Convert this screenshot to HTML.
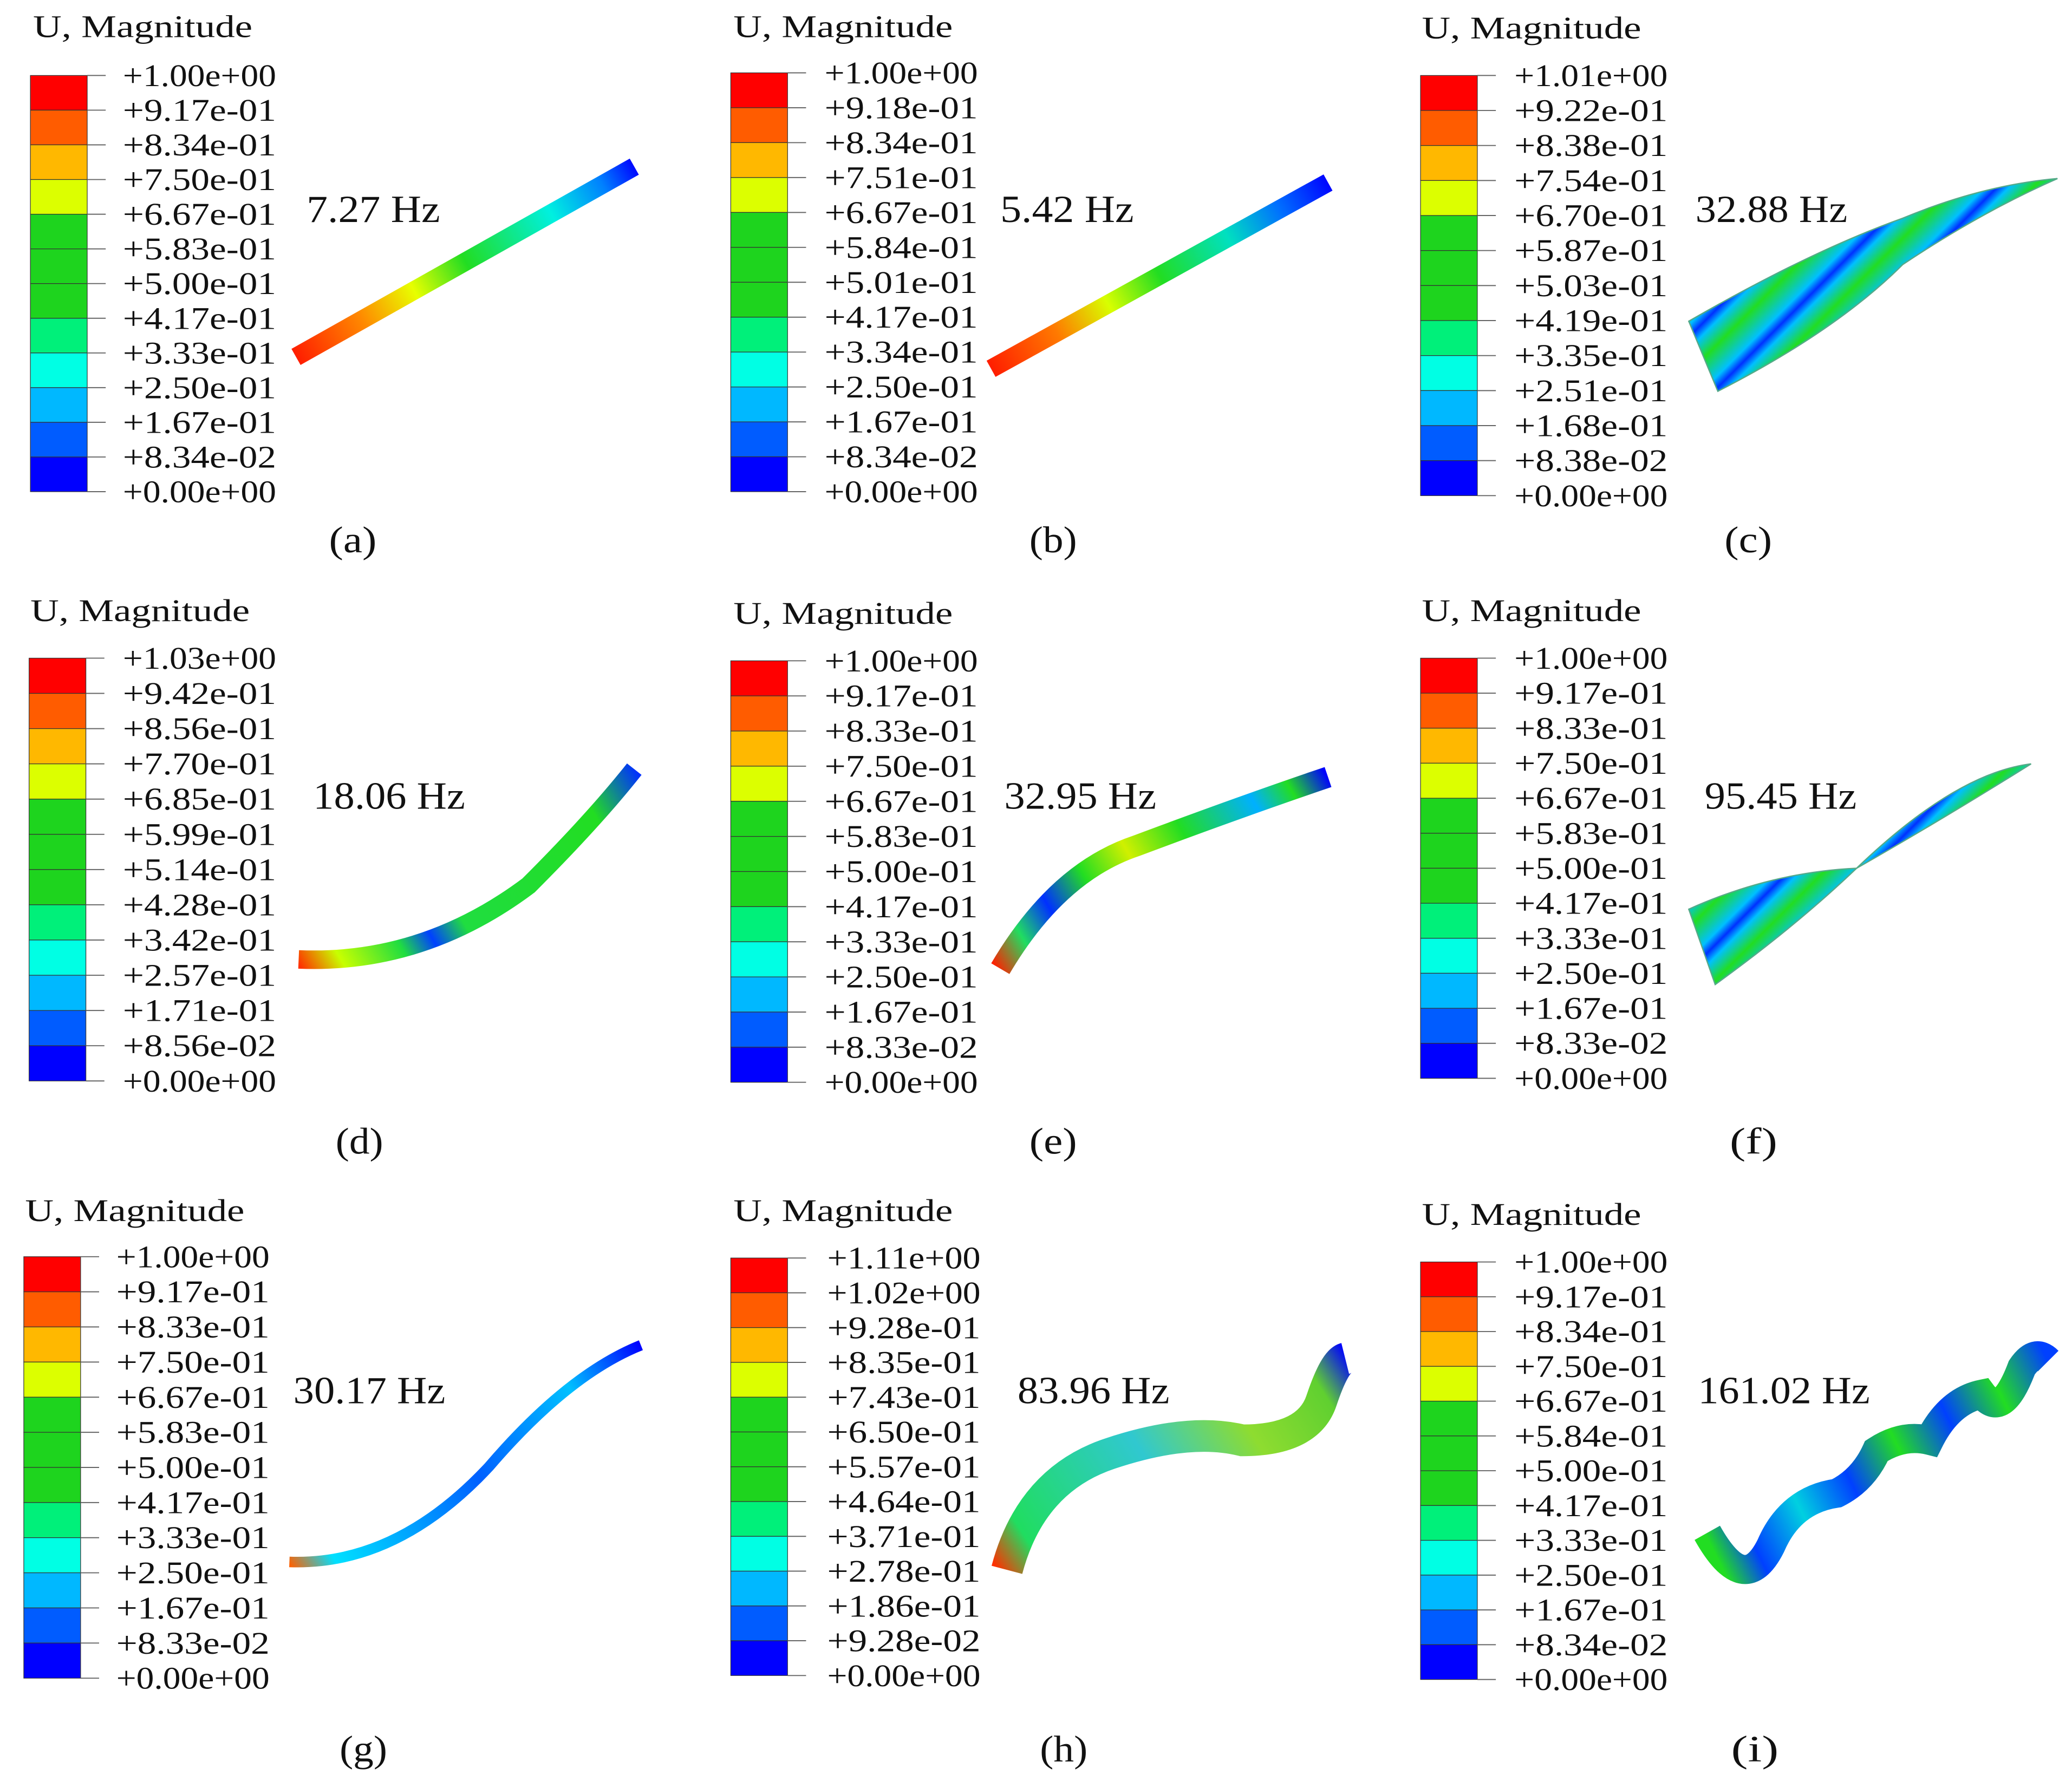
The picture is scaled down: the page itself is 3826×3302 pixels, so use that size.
<!DOCTYPE html>
<html><head><meta charset="utf-8"><style>
html,body{margin:0;padding:0;background:#fff;}
svg{display:block;font-family:"Liberation Serif","DejaVu Serif",serif;}
</style></head><body>
<svg id="fig" width="3826" height="3302" viewBox="0 0 1568 1353" xmlns="http://www.w3.org/2000/svg">
<defs>
<linearGradient id="ga" gradientUnits="userSpaceOnUse" x1="222" y1="270" x2="482" y2="125"><stop offset="0" stop-color="#ff1a00"/><stop offset="0.2" stop-color="#ff8a00"/><stop offset="0.35" stop-color="#e8ff00"/><stop offset="0.5" stop-color="#22dd22"/><stop offset="0.75" stop-color="#00f0e0"/><stop offset="0.9" stop-color="#0080ff"/><stop offset="1" stop-color="#0000ff"/></linearGradient>
<linearGradient id="gb" gradientUnits="userSpaceOnUse" x1="748" y1="280" x2="1007" y2="137"><stop offset="0" stop-color="#ff1a00"/><stop offset="0.2" stop-color="#ff7a00"/><stop offset="0.35" stop-color="#d8ff00"/><stop offset="0.5" stop-color="#22dd22"/><stop offset="0.7" stop-color="#00e0c0"/><stop offset="0.85" stop-color="#0070ff"/><stop offset="1" stop-color="#0000ff"/></linearGradient>
<linearGradient id="gd" gradientUnits="userSpaceOnUse" x1="225" y1="728" x2="480" y2="580"><stop offset="0" stop-color="#ff3000"/><stop offset="0.1" stop-color="#c8ff00"/><stop offset="0.25" stop-color="#20dd40"/><stop offset="0.33" stop-color="#0040ff"/><stop offset="0.42" stop-color="#20dd40"/><stop offset="0.85" stop-color="#22dd22"/><stop offset="1" stop-color="#0030ff"/></linearGradient>
<linearGradient id="ge" gradientUnits="userSpaceOnUse" x1="755" y1="735" x2="1005" y2="588"><stop offset="0" stop-color="#ff2000"/><stop offset="0.1" stop-color="#20dd60"/><stop offset="0.2" stop-color="#0030ff"/><stop offset="0.32" stop-color="#22dd22"/><stop offset="0.45" stop-color="#d0f000"/><stop offset="0.6" stop-color="#22dd22"/><stop offset="0.8" stop-color="#00b0ff"/><stop offset="0.9" stop-color="#22dd22"/><stop offset="1" stop-color="#0000ff"/></linearGradient>
<linearGradient id="gg" gradientUnits="userSpaceOnUse" x1="218" y1="1183" x2="485" y2="1018"><stop offset="0" stop-color="#ff6000"/><stop offset="0.1" stop-color="#00e0ff"/><stop offset="0.5" stop-color="#0060ff"/><stop offset="0.8" stop-color="#00c0ff"/><stop offset="1" stop-color="#0000ff"/></linearGradient>
<linearGradient id="gh" gradientUnits="userSpaceOnUse" x1="758" y1="1193" x2="1020" y2="1025"><stop offset="0" stop-color="#ff3000"/><stop offset="0.1" stop-color="#20dd60"/><stop offset="0.45" stop-color="#30c8d0"/><stop offset="0.7" stop-color="#8edc30"/><stop offset="0.9" stop-color="#60d030"/><stop offset="1" stop-color="#0000ff"/></linearGradient>
<linearGradient id="gs" gradientUnits="userSpaceOnUse" x1="0" y1="0" x2="30" y2="30" spreadMethod="repeat"><stop offset="0" stop-color="#22dd22"/><stop offset="0.4" stop-color="#00c0ff"/><stop offset="0.55" stop-color="#0030ff"/><stop offset="0.7" stop-color="#00c0ff"/><stop offset="1" stop-color="#22dd22"/></linearGradient>
<linearGradient id="gi" gradientUnits="userSpaceOnUse" x1="1290" y1="1160" x2="1550" y2="1030"><stop offset="0" stop-color="#22dd22"/><stop offset="0.1" stop-color="#0040ff"/><stop offset="0.25" stop-color="#00d0e0"/><stop offset="0.4" stop-color="#0040ff"/><stop offset="0.55" stop-color="#22dd22"/><stop offset="0.7" stop-color="#0040ff"/><stop offset="0.85" stop-color="#22dd22"/><stop offset="1" stop-color="#0040ff"/></linearGradient>
</defs>
<g id="panels"></g>
<g id="beams">
<path d="M224 270 L480 126" stroke="url(#ga)" stroke-width="14" fill="none"/>
<path d="M750 279 L1005 138" stroke="url(#gb)" stroke-width="14" fill="none"/>
<path d="M1278 243 L1300 296 Q1390 250 1440 200 Q1500 160 1557 135 Q1500 140 1440 165 Q1370 190 1278 243 Z" fill="url(#gs)" stroke="#5a8" stroke-width="1"/>
<path d="M226 726 Q320 730 400 670 Q450 620 480 582" stroke="url(#gd)" stroke-width="14" fill="none"/>
<path d="M757 733 Q800 660 860 640 Q940 610 1005 588" stroke="url(#ge)" stroke-width="16" fill="none"/>
<path d="M1278 688 L1298 745 Q1360 700 1405 657 Q1470 620 1537 578 Q1480 585 1405 657 Q1340 660 1278 688 Z" fill="url(#gs)" stroke="#5a8" stroke-width="1"/>
<path d="M219 1182 Q300 1185 370 1110 Q430 1040 485 1018" stroke="url(#gg)" stroke-width="8" fill="none"/>
<path d="M762 1188 Q780 1120 840 1100 Q900 1080 940 1090 Q990 1090 1000 1060 Q1010 1030 1018 1028" stroke="url(#gh)" stroke-width="24" fill="none"/>
<path d="M1292 1160 Q1320 1210 1340 1170 Q1355 1135 1390 1130 Q1410 1120 1420 1098 Q1440 1085 1460 1090 Q1475 1060 1500 1055 Q1515 1075 1530 1035 Q1540 1020 1550 1030" stroke="url(#gi)" stroke-width="22" fill="none"/>
</g>
</svg>
<script>
const panelIds = ['a','b','c','d','e','f','g','h','i'];
const freqs = ['7.27 Hz','5.42 Hz','32.88 Hz','18.06 Hz','32.95 Hz','95.45 Hz','30.17 Hz','83.96 Hz','161.02 Hz'];
const labelsA = ['+1.00e+00','+9.17e-01','+8.34e-01','+7.50e-01','+6.67e-01','+5.83e-01','+5.00e-01','+4.17e-01','+3.33e-01','+2.50e-01','+1.67e-01','+8.34e-02','+0.00e+00'];
const labelsB = ['+1.00e+00','+9.18e-01','+8.34e-01','+7.51e-01','+6.67e-01','+5.84e-01','+5.01e-01','+4.17e-01','+3.34e-01','+2.50e-01','+1.67e-01','+8.34e-02','+0.00e+00'];
const labelsC = ['+1.01e+00','+9.22e-01','+8.38e-01','+7.54e-01','+6.70e-01','+5.87e-01','+5.03e-01','+4.19e-01','+3.35e-01','+2.51e-01','+1.68e-01','+8.38e-02','+0.00e+00'];
const labelsD = ['+1.03e+00','+9.42e-01','+8.56e-01','+7.70e-01','+6.85e-01','+5.99e-01','+5.14e-01','+4.28e-01','+3.42e-01','+2.57e-01','+1.71e-01','+8.56e-02','+0.00e+00'];
const labelsE = ['+1.00e+00','+9.17e-01','+8.33e-01','+7.50e-01','+6.67e-01','+5.83e-01','+5.00e-01','+4.17e-01','+3.33e-01','+2.50e-01','+1.67e-01','+8.33e-02','+0.00e+00'];
const labelsF = labelsE;
const labelsG = labelsE;
const labelsH = ['+1.11e+00','+1.02e+00','+9.28e-01','+8.35e-01','+7.43e-01','+6.50e-01','+5.57e-01','+4.64e-01','+3.71e-01','+2.78e-01','+1.86e-01','+9.28e-02','+0.00e+00'];
const labelsI = ['+1.00e+00','+9.17e-01','+8.34e-01','+7.50e-01','+6.67e-01','+5.84e-01','+5.00e-01','+4.17e-01','+3.33e-01','+2.50e-01','+1.67e-01','+8.34e-02','+0.00e+00'];
const allLabels = [labelsA,labelsB,labelsC,labelsD,labelsE,labelsF,labelsG,labelsH,labelsI];
const bandColors = ['#ff0000','#ff5c00','#ffb800','#dcff00','#1ed41e','#1ed41e','#1ed41e','#00f07a','#00ffe4','#00b8ff','#005cff','#0000ff'];
const L = [
 {bx:23,by0:57,by1:372,lx:93,tx:25,ty:28,fx:232,fy:168,cx:267,cy:418},
 {bx:553,by0:55,by1:372,lx:624,tx:555,ty:28,fx:757,fy:168,cx:797,cy:418},
 {bx:1075,by0:57,by1:375,lx:1146,tx:1076,ty:29,fx:1283,fy:168,cx:1323,cy:418},
 {bx:22,by0:498,by1:818,lx:93,tx:23,ty:470,fx:237,fy:612,cx:272,cy:873},
 {bx:553,by0:500,by1:819,lx:624,tx:555,ty:472,fx:760,fy:612,cx:797,cy:873},
 {bx:1075,by0:498,by1:816,lx:1146,tx:1076,ty:470,fx:1290,fy:612,cx:1327,cy:873},
 {bx:18,by0:951,by1:1270,lx:88,tx:19,ty:924,fx:222,fy:1062,cx:275,cy:1333},
 {bx:553,by0:952,by1:1268,lx:626,tx:555,ty:924,fx:770,fy:1062,cx:805,cy:1333},
 {bx:1075,by0:955,by1:1271,lx:1146,tx:1076,ty:927,fx:1285,fy:1062,cx:1328,cy:1333}
];
const NS='http://www.w3.org/2000/svg';
const root=document.getElementById('panels');
function mk(t,a,p){const e=document.createElementNS(NS,t);for(const k in a)e.setAttribute(k,a[k]);p.appendChild(e);return e;}
panelIds.forEach((id,i)=>{
  const l=L[i], labs=allLabels[i];
  const g=mk('g',{},root);
  
  
  const t=mk('text',{x:l.tx,y:l.ty,'font-size':24,fill:'#111',textLength:166,lengthAdjust:'spacingAndGlyphs'},g);
  t.textContent='U, Magnitude';
  
  
  const n=bandColors.length, h=(l.by1-l.by0)/n;
  bandColors.forEach((c,k)=>{
    const r=mk('rect',{x:l.bx,y:l.by0+k*h,width:43,height:h,fill:c,stroke:'#333','stroke-width':0.5},g);
    
    
  });
  labs.forEach((s,k)=>{
    const y=l.by0+k*h;
    const ln=mk('line',{x1:l.bx+43,x2:l.bx+57,y1:y,y2:y,stroke:'#666','stroke-width':0.8},g);
    
    
    const tx=mk('text',{x:l.lx,y:y+8,'font-size':24,fill:'#111',textLength:116,lengthAdjust:'spacingAndGlyphs'},g);
    tx.textContent=s;
    
    
  });
  const fs=freqs[i];
  const f=mk('text',{x:l.fx,y:l.fy,'font-size':29,fill:'#111',textLength:(fs.length*14.4).toFixed(0),lengthAdjust:'spacingAndGlyphs'},g);
  f.textContent=fs;
  
  
  const c=mk('text',{x:l.cx-18,y:l.cy,'font-size':28,fill:'#111',textLength:36,lengthAdjust:'spacingAndGlyphs'},g);
  c.textContent='('+id+')';
  
  
});
</script>
</body></html>
